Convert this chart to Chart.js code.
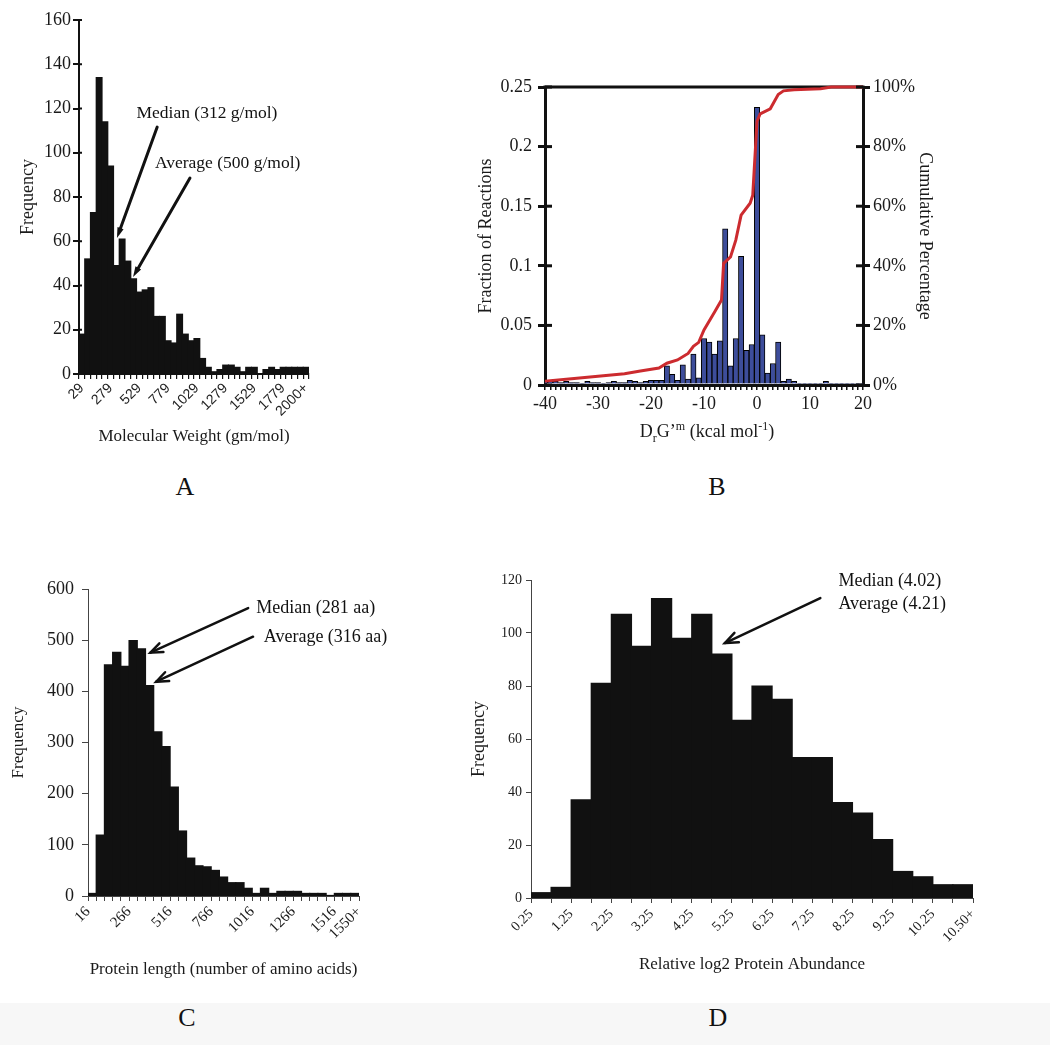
<!DOCTYPE html>
<html>
<head>
<meta charset="utf-8">
<script src="https://cdn.jsdelivr.net/npm/chart.js@4.4.1/dist/chart.umd.min.js"></script>
<style>
  html, body { margin: 0; padding: 0; background: #fff; }
  #page { position: relative; width: 1050px; height: 1045px; overflow: hidden; background: #fff; }
  canvas { position: absolute; }
  .letter { position: absolute; font: 26px 'Liberation Serif', 'Times New Roman', serif; color: #111; transform: translate(-50%, -50%); }
  #foot { position: absolute; left: 0; top: 1003px; width: 1050px; height: 42px; background: #f7f7f7; }
</style>
</head>
<body>
<div id="page">
  <div id="foot"></div>
  <canvas id="chartA" width="340" height="455" style="left:0;top:0"></canvas>
  <canvas id="chartB" width="510" height="390" style="left:440px;top:60px"></canvas>
  <canvas id="chartC" width="420" height="420" style="left:0;top:570px"></canvas>
  <canvas id="chartD" width="560" height="430" style="left:440px;top:560px"></canvas>
  <div class="letter" style="left:185px;top:487px">A</div>
  <div class="letter" style="left:717px;top:487px">B</div>
  <div class="letter" style="left:187px;top:1018px">C</div>
  <div class="letter" style="left:718px;top:1018px">D</div>
</div>
<script>
const SERIF = "'Liberation Serif', 'Times New Roman', serif";
const SANS = "'Liberation Sans', Arial, sans-serif";

const COLORS = {
    ink: '#111111',
    axis: '#444444',
    blue: '#3d4d9b',
    red: '#cc2b2f',
};

// A - molecular weight of metabolites (bins of 50 g/mol)
const mwLabels = ['29', '', '', '', '', '279', '', '', '', '', '529', '', '', '', '', '779', '', '', '', '',
    '1029', '', '', '', '', '1279', '', '', '', '', '1529', '', '', '', '', '1779', '', '', '', '2000+'];
const mwCounts = [18, 52, 73, 134, 114, 94, 49, 61, 51, 43, 37, 38, 39, 26, 26, 15, 14, 27, 18, 15,
    16, 7, 3, 1, 2, 4, 4, 3, 1, 3, 3, 0, 2, 3, 2, 3, 3, 3, 3, 3];
const mwTicks = [0, 20, 40, 60, 80, 100, 120, 140, 160];

// B - reaction free energies
const dgBins = [-40, -39, -38, -37, -36, -35, -34, -33, -32, -31, -30, -29, -28, -27, -26, -25, -24, -23, -22, -21,
    -20, -19, -18, -17, -16, -15, -14, -13, -12, -11, -10, -9, -8, -7, -6, -5, -4, -3, -2, -1,
    0, 1, 2, 3, 4, 5, 6, 7, 8, 9, 10, 11, 12, 13, 14, 15, 16, 17, 18, 19, 20];
const dgFraction = [0.003, 0.003, 0.003, 0.002, 0.003, 0.002, 0.002, 0.001, 0.003, 0.002,
    0.002, 0.001, 0.002, 0.003, 0.002, 0.002, 0.004, 0.003, 0.002, 0.003,
    0.004, 0.004, 0.004, 0.016, 0.009, 0.004, 0.017, 0.005, 0.026, 0.006,
    0.039, 0.036, 0.026, 0.037, 0.131, 0.016, 0.039, 0.108, 0.029, 0.034,
    0.233, 0.042, 0.010, 0.018, 0.036, 0.003, 0.005, 0.003, 0.001, 0.001,
    0.001, 0.001, 0.001, 0.003, 0.001, 0.001, 0.001, 0.001, 0.001, 0.001, 0.001];
const cumX = [-40, -35, -30, -25, -22, -18.5, -17, -15, -13, -12, -11, -10, -8, -6.7, -6.3, -5, -4, -3, -1.3, -0.8,
    0, 0.6, 2.5, 4, 5, 7, 12, 14, 20];
const cumPct = [1.3, 2.1, 2.9, 3.8, 4.7, 5.7, 7.3, 8.4, 10.6, 13, 14.3, 18.5, 24.5, 28.5, 40.8, 43, 48.6, 57, 61, 63.7,
    88.5, 91, 92.7, 97.5, 98.7, 99.1, 99.4, 100, 100];
const fracTicks = [0, 0.05, 0.1, 0.15, 0.2, 0.25];
const pctTicks = [0, 20, 40, 60, 80, 100];

// C - protein length (bins of 50 aa, labels sit on bin edges)
const lenLabels = ['16', '', '', '', '', '266', '', '', '', '', '516', '', '', '', '', '766', '', '', '', '',
    '1016', '', '', '', '', '1266', '', '', '', '', '1516', '', '', '1550+'];
const lenCounts = [5, 119, 452, 476, 449, 499, 483, 411, 321, 292, 213, 127, 74, 59, 57, 50, 37, 26, 26, 15,
    5, 15, 5, 9, 9, 9, 5, 5, 5, 1, 5, 5, 5];
const lenTicks = [0, 100, 200, 300, 400, 500, 600];

// D - relative log2 protein abundance (bins of 0.5)
const abLabels = ['0.25', '', '1.25', '', '2.25', '', '3.25', '', '4.25', '', '5.25', '', '6.25', '', '7.25', '',
    '8.25', '', '9.25', '', '10.25', '', '10.50+'];
const abCounts = [2, 4, 37, 81, 107, 95, 113, 98, 107, 92, 67, 80, 75, 53, 53, 36, 32, 22, 10, 8, 5, 5];
const abTicks = [0, 20, 40, 60, 80, 100, 120];

Chart.defaults.font.family = SERIF;
Chart.defaults.color = '#1a1a1a';
Chart.defaults.animation = false;
Chart.defaults.plugins.legend.display = false;
Chart.defaults.plugins.tooltip.enabled = false;

const fixedTicks = (values) => (scale) => { scale.ticks = values.map(v => ({ value: v })); };

function drawArrow(ctx, x1, y1, x2, y2, width, head, filled) {
    const ang = Math.atan2(y2 - y1, x2 - x1);
    const spread = filled ? 0.3 : 0.38;
    const p1 = [x2 - head * Math.cos(ang - spread), y2 - head * Math.sin(ang - spread)];
    const p2 = [x2 - head * Math.cos(ang + spread), y2 - head * Math.sin(ang + spread)];
    const back = filled ? head * 0.7 : 0;
    ctx.lineWidth = width;
    ctx.strokeStyle = COLORS.ink;
    ctx.fillStyle = COLORS.ink;
    ctx.lineCap = 'round';
    ctx.beginPath();
    ctx.moveTo(x1, y1);
    ctx.lineTo(x2 - back * Math.cos(ang), y2 - back * Math.sin(ang));
    ctx.stroke();
    ctx.beginPath();
    ctx.moveTo(p1[0], p1[1]);
    ctx.lineTo(x2, y2);
    ctx.lineTo(p2[0], p2[1]);
    if (filled) { ctx.closePath(); ctx.fill(); } else { ctx.stroke(); }
}

// arrows and labels are anchored in data units so they follow the scales
function notes(arrows, labels, style) {
    return {
        id: 'notes',
        afterDraw(chart) {
            const { ctx, scales } = chart;
            const sx = scales.x, sy = scales.y;
            ctx.save();
            arrows.forEach(a => drawArrow(ctx,
                sx.getPixelForValue(a.from[0]), sy.getPixelForValue(a.from[1]),
                sx.getPixelForValue(a.to[0]), sy.getPixelForValue(a.to[1]),
                style.width, style.head, style.filled));
            ctx.font = style.font;
            ctx.fillStyle = COLORS.ink;
            ctx.textAlign = 'left';
            ctx.textBaseline = 'middle';
            labels.forEach(l => ctx.fillText(l.text, sx.getPixelForValue(l.at[0]), sy.getPixelForValue(l.at[1])));
            ctx.restore();
        }
    };
}

function innerTicks(ids, len, width) {
    return {
        id: 'innerTicks',
        afterDatasetsDraw(chart) {
            const { ctx, chartArea } = chart;
            ctx.save();
            ctx.strokeStyle = COLORS.ink;
            ctx.lineWidth = width;
            ids.forEach(id => {
                const s = chart.scales[id];
                const left = s.position === 'left';
                const x0 = left ? chartArea.left : chartArea.right;
                s.ticks.forEach(t => {
                    const y = s.getPixelForValue(t.value);
                    ctx.beginPath();
                    ctx.moveTo(x0, y);
                    ctx.lineTo(x0 + (left ? len : -len), y);
                    ctx.stroke();
                });
            });
            ctx.restore();
        }
    };
}

// ---------- A ----------
new Chart(document.getElementById('chartA'), {
    type: 'bar',
    data: {
        labels: mwLabels,
        datasets: [{
            data: mwCounts,
            backgroundColor: COLORS.ink,
            borderWidth: 0,
            inflateAmount: 0.6,
            barPercentage: 1,
            categoryPercentage: 1,
        }]
    },
    options: {
        responsive: false,
        layout: { padding: { left: 0, right: 31, top: 20, bottom: 0 } },
        scales: {
            x: {
                grid: { drawOnChartArea: false, offset: true, tickLength: 5, color: COLORS.ink, lineWidth: 1.2 },
                border: { color: COLORS.ink, width: 2 },
                ticks: { autoSkip: false, minRotation: 45, maxRotation: 45, padding: 1, color: '#222',
                    font: { family: SANS, size: 14 } },
                title: { display: true, text: 'Molecular Weight (gm/mol)', font: { size: 17 },
                    padding: { top: 0, bottom: 8 } },
                afterFit: (s) => { s.height = 81; },
            },
            y: {
                min: 0, max: 160,
                afterBuildTicks: fixedTicks(mwTicks),
                grid: { drawOnChartArea: false, tickLength: 6, color: COLORS.ink, lineWidth: 2 },
                border: { color: COLORS.ink, width: 2 },
                ticks: { padding: 2, font: { size: 18 } },
                title: { display: true, text: 'Frequency', font: { size: 18 }, padding: { top: 17 } },
                afterFit: (s) => { s.width = 79; },
            }
        }
    },
    plugins: [
        innerTicks(['y'], 3, 2),
        notes(
            [{ from: [13.1, 111.6], to: [6.1, 61.5] }, { from: [18.8, 88.6], to: [8.9, 43.8] }],
            [{ at: [9.5, 118], text: 'Median (312 g/mol)' }, { at: [12.7, 95.4], text: 'Average (500 g/mol)' }],
            { width: 3, head: 11, filled: true, font: `17.5px ${SERIF}` }
        ),
    ]
});

// ---------- B ----------
const frameTop = {
    id: 'frameTop',
    beforeDatasetsDraw(chart) {
        const { ctx, chartArea } = chart;
        ctx.save();
        ctx.strokeStyle = COLORS.ink;
        ctx.lineWidth = 3;
        ctx.beginPath();
        ctx.moveTo(chartArea.left - 1.5, chartArea.top);
        ctx.lineTo(chartArea.right + 1.5, chartArea.top);
        ctx.stroke();
        ctx.restore();
    }
};

// x title with sub/superscripts: DrG'm (kcal mol-1)
const richTitle = {
    id: 'richTitle',
    afterDraw(chart) {
        const { ctx, chartArea, scales } = chart;
        const size = 18, small = 12;
        const parts = [['D', 0], ['r', 1], ['G\u2019', 0], ['m', -1], [' (kcal mol', 0], ['-1', -1], [')', 0]];
        ctx.save();
        ctx.fillStyle = '#1a1a1a';
        ctx.textBaseline = 'alphabetic';
        const widths = parts.map(([t, pos]) => {
            ctx.font = `${pos ? small : size}px ${SERIF}`;
            return ctx.measureText(t).width;
        });
        const total = widths.reduce((a, b) => a + b, 0);
        let x = (chartArea.left + chartArea.right) / 2 + 3 - total / 2;
        const base = scales.x.bottom - 13;
        parts.forEach(([t, pos], i) => {
            ctx.font = `${pos ? small : size}px ${SERIF}`;
            ctx.fillText(t, x, base + (pos === 1 ? 5 : pos === -1 ? -7 : 0));
            x += widths[i];
        });
        ctx.restore();
    }
};

new Chart(document.getElementById('chartB'), {
    type: 'bar',
    data: {
        datasets: [{
            type: 'line',
            data: cumX.map((x, i) => ({ x, y: cumPct[i] })),
            yAxisID: 'yCum',
            borderColor: COLORS.red,
            borderWidth: 3,
            pointRadius: 0,
            tension: 0,
            clip: false,
            order: 1,
        }, {
            type: 'bar',
            data: dgBins.map((x, i) => ({ x, y: dgFraction[i] })),
            yAxisID: 'y',
            backgroundColor: COLORS.blue,
            borderColor: '#000',
            borderWidth: 1,
            barPercentage: 1,
            categoryPercentage: 1,
            order: 2,
        }]
    },
    options: {
        responsive: false,
        layout: { padding: { left: 0, right: 0, top: 27, bottom: 0 } },
        scales: {
            x: {
                type: 'linear', min: -40, max: 20, offset: false,
                afterBuildTicks: fixedTicks(dgBins),
                grid: { drawOnChartArea: false, offset: false, tickLength: 5, color: COLORS.ink, lineWidth: 1.5 },
                border: { color: COLORS.ink, width: 3 },
                ticks: { autoSkip: false, maxRotation: 0, padding: 3, font: { size: 18 },
                    callback: (v) => (v % 10 === 0 ? String(v) : '') },
                afterFit: (s) => { s.height = 65; },
            },
            y: {
                position: 'left', min: 0, max: 0.25,
                afterBuildTicks: fixedTicks(fracTicks),
                grid: { drawOnChartArea: false, tickLength: 7, color: COLORS.ink, lineWidth: 3 },
                border: { color: COLORS.ink, width: 3 },
                ticks: { padding: 6, font: { size: 18 }, callback: (v) => String(+v.toFixed(2)) },
                title: { display: true, text: 'Fraction of Reactions', font: { size: 18 }, padding: { top: 35 } },
                afterFit: (s) => { s.width = 105; },
            },
            yCum: {
                position: 'right', min: 0, max: 100,
                afterBuildTicks: fixedTicks(pctTicks),
                grid: { drawOnChartArea: false, tickLength: 7, color: COLORS.ink, lineWidth: 3 },
                border: { color: COLORS.ink, width: 3 },
                ticks: { padding: 3, font: { size: 18 }, callback: (v) => v + '%' },
                title: { display: true, text: 'Cumulative Percentage', font: { size: 18 }, padding: { top: 14 } },
                afterFit: (s) => { s.width = 87; },
            }
        }
    },
    plugins: [frameTop, innerTicks(['y', 'yCum'], 7, 3), richTitle]
});

// ---------- C ----------
new Chart(document.getElementById('chartC'), {
    type: 'bar',
    data: {
        datasets: [{
            data: lenCounts.map((v, i) => ({ x: i + 0.5, y: v })),
            backgroundColor: COLORS.ink,
            borderWidth: 0,
            inflateAmount: 0.6,
            barPercentage: 1,
            categoryPercentage: 1,
        }]
    },
    options: {
        responsive: false,
        layout: { padding: { left: 0, right: 61, top: 19, bottom: 0 } },
        scales: {
            x: {
                type: 'linear', min: 0, max: lenLabels.length - 1, offset: false,
                afterBuildTicks: fixedTicks(lenLabels.map((_, i) => i)),
                grid: { drawOnChartArea: false, offset: false, tickLength: 5, color: COLORS.axis, lineWidth: 1 },
                border: { color: COLORS.axis, width: 1 },
                ticks: { autoSkip: false, minRotation: 45, maxRotation: 45, padding: 2, font: { size: 15 },
                    callback: (v, i) => lenLabels[i] },
                title: { display: true, text: 'Protein length (number of amino acids)', font: { size: 17 },
                    padding: { top: 0, bottom: 10 } },
                afterFit: (s) => { s.height = 94; },
            },
            y: {
                min: 0, max: 600,
                afterBuildTicks: fixedTicks(lenTicks),
                grid: { drawOnChartArea: false, tickLength: 6, color: COLORS.axis, lineWidth: 1 },
                border: { color: COLORS.axis, width: 1 },
                ticks: { padding: 8, font: { size: 18 } },
                title: { display: true, text: 'Frequency', font: { size: 17 }, padding: { top: 8 } },
                afterFit: (s) => { s.width = 88; },
            }
        }
    },
    plugins: [notes(
        [{ from: [19.5, 562.8], to: [7.6, 475.5] }, { from: [20.1, 506.7], to: [8.3, 418.8] }],
        [{ at: [20.5, 562.8], text: 'Median (281 aa)' }, { at: [21.4, 506], text: 'Average (316 aa)' }],
        { width: 2.5, head: 13, filled: false, font: `18px ${SERIF}` }
    )]
});

// ---------- D ----------
new Chart(document.getElementById('chartD'), {
    type: 'bar',
    data: {
        datasets: [{
            data: abCounts.map((v, i) => ({ x: i + 0.5, y: v })),
            backgroundColor: COLORS.ink,
            borderWidth: 0,
            inflateAmount: 0.6,
            barPercentage: 1,
            categoryPercentage: 1,
        }]
    },
    options: {
        responsive: false,
        layout: { padding: { left: 0, right: 27, top: 20, bottom: 0 } },
        scales: {
            x: {
                type: 'linear', min: 0, max: abLabels.length - 1, offset: false,
                afterBuildTicks: fixedTicks(abLabels.map((_, i) => i)),
                grid: { drawOnChartArea: false, offset: false, tickLength: 5, color: COLORS.axis, lineWidth: 1 },
                border: { color: COLORS.axis, width: 1 },
                ticks: { autoSkip: false, minRotation: 45, maxRotation: 45, padding: 3, font: { size: 14 },
                    callback: (v, i) => abLabels[i] },
                title: { display: true, text: 'Relative log2 Protein Abundance', font: { size: 17 },
                    padding: { top: 0, bottom: 15 } },
                afterFit: (s) => { s.height = 92; },
            },
            y: {
                min: 0, max: 120,
                afterBuildTicks: fixedTicks(abTicks),
                grid: { drawOnChartArea: false, tickLength: 5, color: COLORS.axis, lineWidth: 1 },
                border: { color: COLORS.axis, width: 1 },
                ticks: { padding: 4, font: { size: 14 } },
                title: { display: true, text: 'Frequency', font: { size: 18 }, padding: { top: 28 } },
                afterFit: (s) => { s.width = 91; },
            }
        }
    },
    plugins: [notes(
        [{ from: [14.4, 113.2], to: [9.65, 96.2] }],
        [{ at: [15.3, 119.5], text: 'Median (4.02)' }, { at: [15.3, 110.7], text: 'Average (4.21)' }],
        { width: 2.5, head: 14, filled: false, font: `18px ${SERIF}` }
    )]
});
</script>
</body>
</html>
